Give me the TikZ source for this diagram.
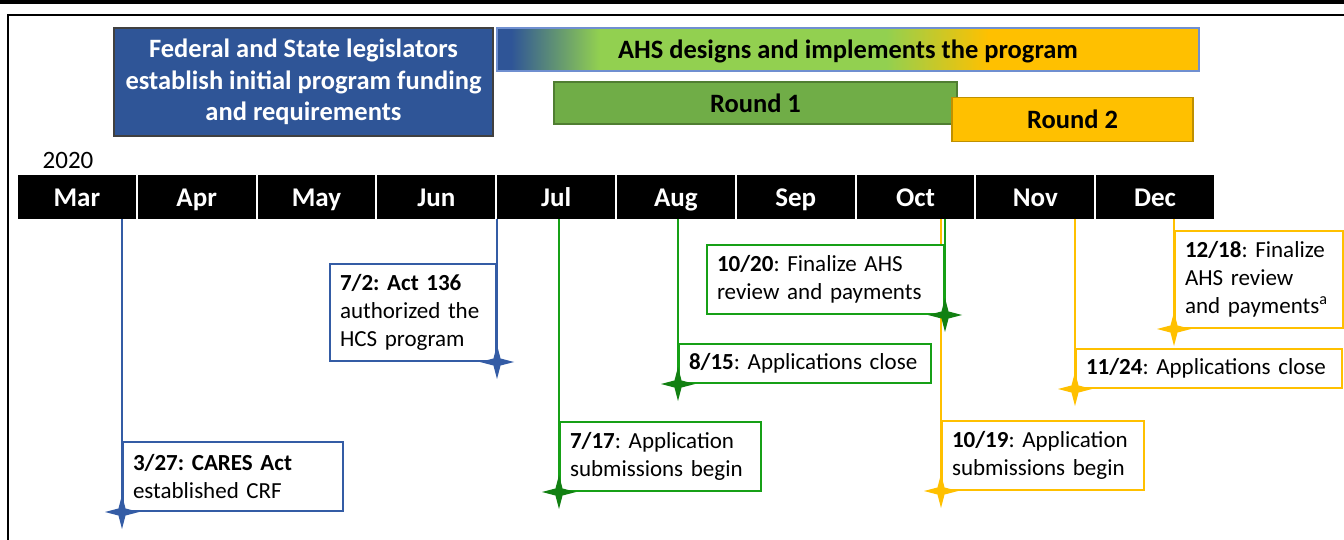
\documentclass[tikz,border=0pt]{standalone}
\usepackage{fontspec}
\setmainfont{Carlito}
\usetikzlibrary{shapes.geometric,positioning}

\definecolor{hdrblue}{RGB}{47,85,151}
\definecolor{barline}{RGB}{111,143,208}
\definecolor{ahsgreen}{RGB}{146,208,80}
\definecolor{ahsgold}{RGB}{255,192,0}
\definecolor{rndgreen}{RGB}{112,173,71}
\definecolor{rndgreenedge}{RGB}{80,126,50}
\definecolor{rndgoldedge}{RGB}{191,144,0}
\definecolor{evblue}{RGB}{52,92,165}
\definecolor{evgreen}{RGB}{22,160,22}
\definecolor{evgold}{RGB}{255,192,0}

%% blue -> green -> gold fade for the AHS bar
\pgfdeclarehorizontalshading{ahsbar}{100bp}{color(0bp)=(hdrblue); color(26bp)=(hdrblue);
    color(32.3bp)=(ahsgreen); color(52.7bp)=(ahsgreen); color(60bp)=(ahsgold); color(100bp)=(ahsgold)}

\newcommand\eventfont{\frenchspacing\fontsize{23}{28}\selectfont}
\newcommand\monthfont{\bfseries\fontsize{27}{30}\selectfont}
\newcommand\phasefont{\frenchspacing\bfseries\fontsize{26.5}{31.5}\selectfont}

\begin{document}
\begin{tikzpicture}[x=1pt, y=-1pt,
    month/.style={fill=black, text=white, minimum width=117.8, minimum height=44, inner sep=0,
        text height=24, text depth=5, font=\monthfont},
    phase/.style={draw=#1, line width=1.2, inner sep=0, font=\phasefont},
    event/.style={draw=#1, line width=2, fill=white, inner xsep=10, inner ysep=0, align=left, font=\eventfont},
    spark/.style={star, star points=4, star point ratio=3.4, minimum size=34, inner sep=0, draw=none, fill=#1},
    tick/.style={draw=#1, line width=2}]
    \useasboundingbox (0,0) rectangle (1344,540);

    %% page rules
    \draw[line width=4.5] (0,2.25) -- (1344,2.25);
    \draw[line width=1.5] (8,540) |- (1344,15);

    %% phases
    \node[phase=darkgray, fill=hdrblue, text=white, minimum width=379, minimum height=108, align=center]
        (legis) at (303.5,82) {Federal and State legislators\\establish initial program funding\\and requirements};
    \node[phase=barline, shade, shading=ahsbar, minimum width=702, minimum height=43, text height=21, text depth=3]
        (ahs) at (848,49.5) {AHS designs and implements the program};
    \node[phase=rndgreenedge, fill=rndgreen, minimum width=403, minimum height=42] (round1) at (755.5,103) {Round 1};
    \node[phase=rndgoldedge, fill=ahsgold, minimum width=241, minimum height=44] (round2) at (1072.5,119.5) {Round 2};

    %% months
    \node[font=\fontsize{25}{28}\selectfont] (year) at (68,160) {2020};
    \foreach \m [count=\i from 0] in {Mar,Apr,May,Jun,Jul,Aug,Sep,Oct,Nov,Dec}
        \node[month] (m\i) at (76.9+119.8*\i,197) {\m};

    %% event points
    \coordinate (p327)  at (122,512);
    \coordinate (p702)  at (497,362);
    \coordinate (p717)  at (559,492);
    \coordinate (p815)  at (678,384);
    \coordinate (p1020) at (945,315);
    \coordinate (p1019) at (941,491);
    \coordinate (p1124) at (1075,389);
    \coordinate (p1218) at (1174,329);

    %% drop lines from the month bar
    \foreach \p/\c in {p327/evblue, p702/evblue, p717/evgreen, p815/evgreen,
                      p1019/evgold, p1124/evgold, p1218/evgold, p1020/evgreen}
        \draw[tick=\c] (\p |- m0.south) -- (\p);

    %% event boxes
    \node[event=evblue, anchor=south west, text width=200, minimum height=69] (e327) at (p327)
        {\textbf{3/27: CARES Act}\\established CRF};
    \node[event=evblue, anchor=south east, text width=146, minimum height=97] (e702) at (p702)
        {\textbf{7/2: Act 136}\\authorized the\\HCS program};
    \node[event=evgreen, anchor=south west, text width=181, minimum height=69] (e717) at (p717)
        {\textbf{7/17}: Application\\submissions begin};
    \node[event=evgreen, anchor=south west, text width=232, minimum height=39] (e815) at (p815)
        {\textbf{8/15}: Applications close};
    \node[event=evgreen, anchor=south east, text width=217, minimum height=69] (e1020) at (p1020)
        {\textbf{10/20}: Finalize AHS\\review and payments};
    \node[event=evgold, anchor=south west, text width=182, minimum height=69] (e1019) at (p1019)
        {\textbf{10/19}: Application\\submissions begin};
    \node[event=evgold, anchor=south west, text width=246, minimum height=39] (e1124) at (p1124)
        {\textbf{11/24}: Applications close};
    \node[event=evgold, anchor=south west, text width=148, minimum height=97] (e1218) at (p1218)
        {\textbf{12/18}: Finalize\\AHS review\\and payments\textsuperscript{a}};

    %% sparkles on the event points
    \foreach \p/\c in {p327/evblue, p702/evblue, p717/evgreen!80!black, p815/evgreen!80!black,
                      p1020/evgreen!80!black, p1019/evgold, p1124/evgold, p1218/evgold}
        \node[spark=\c] (s\p) at (\p) {};
\end{tikzpicture}
\end{document}
